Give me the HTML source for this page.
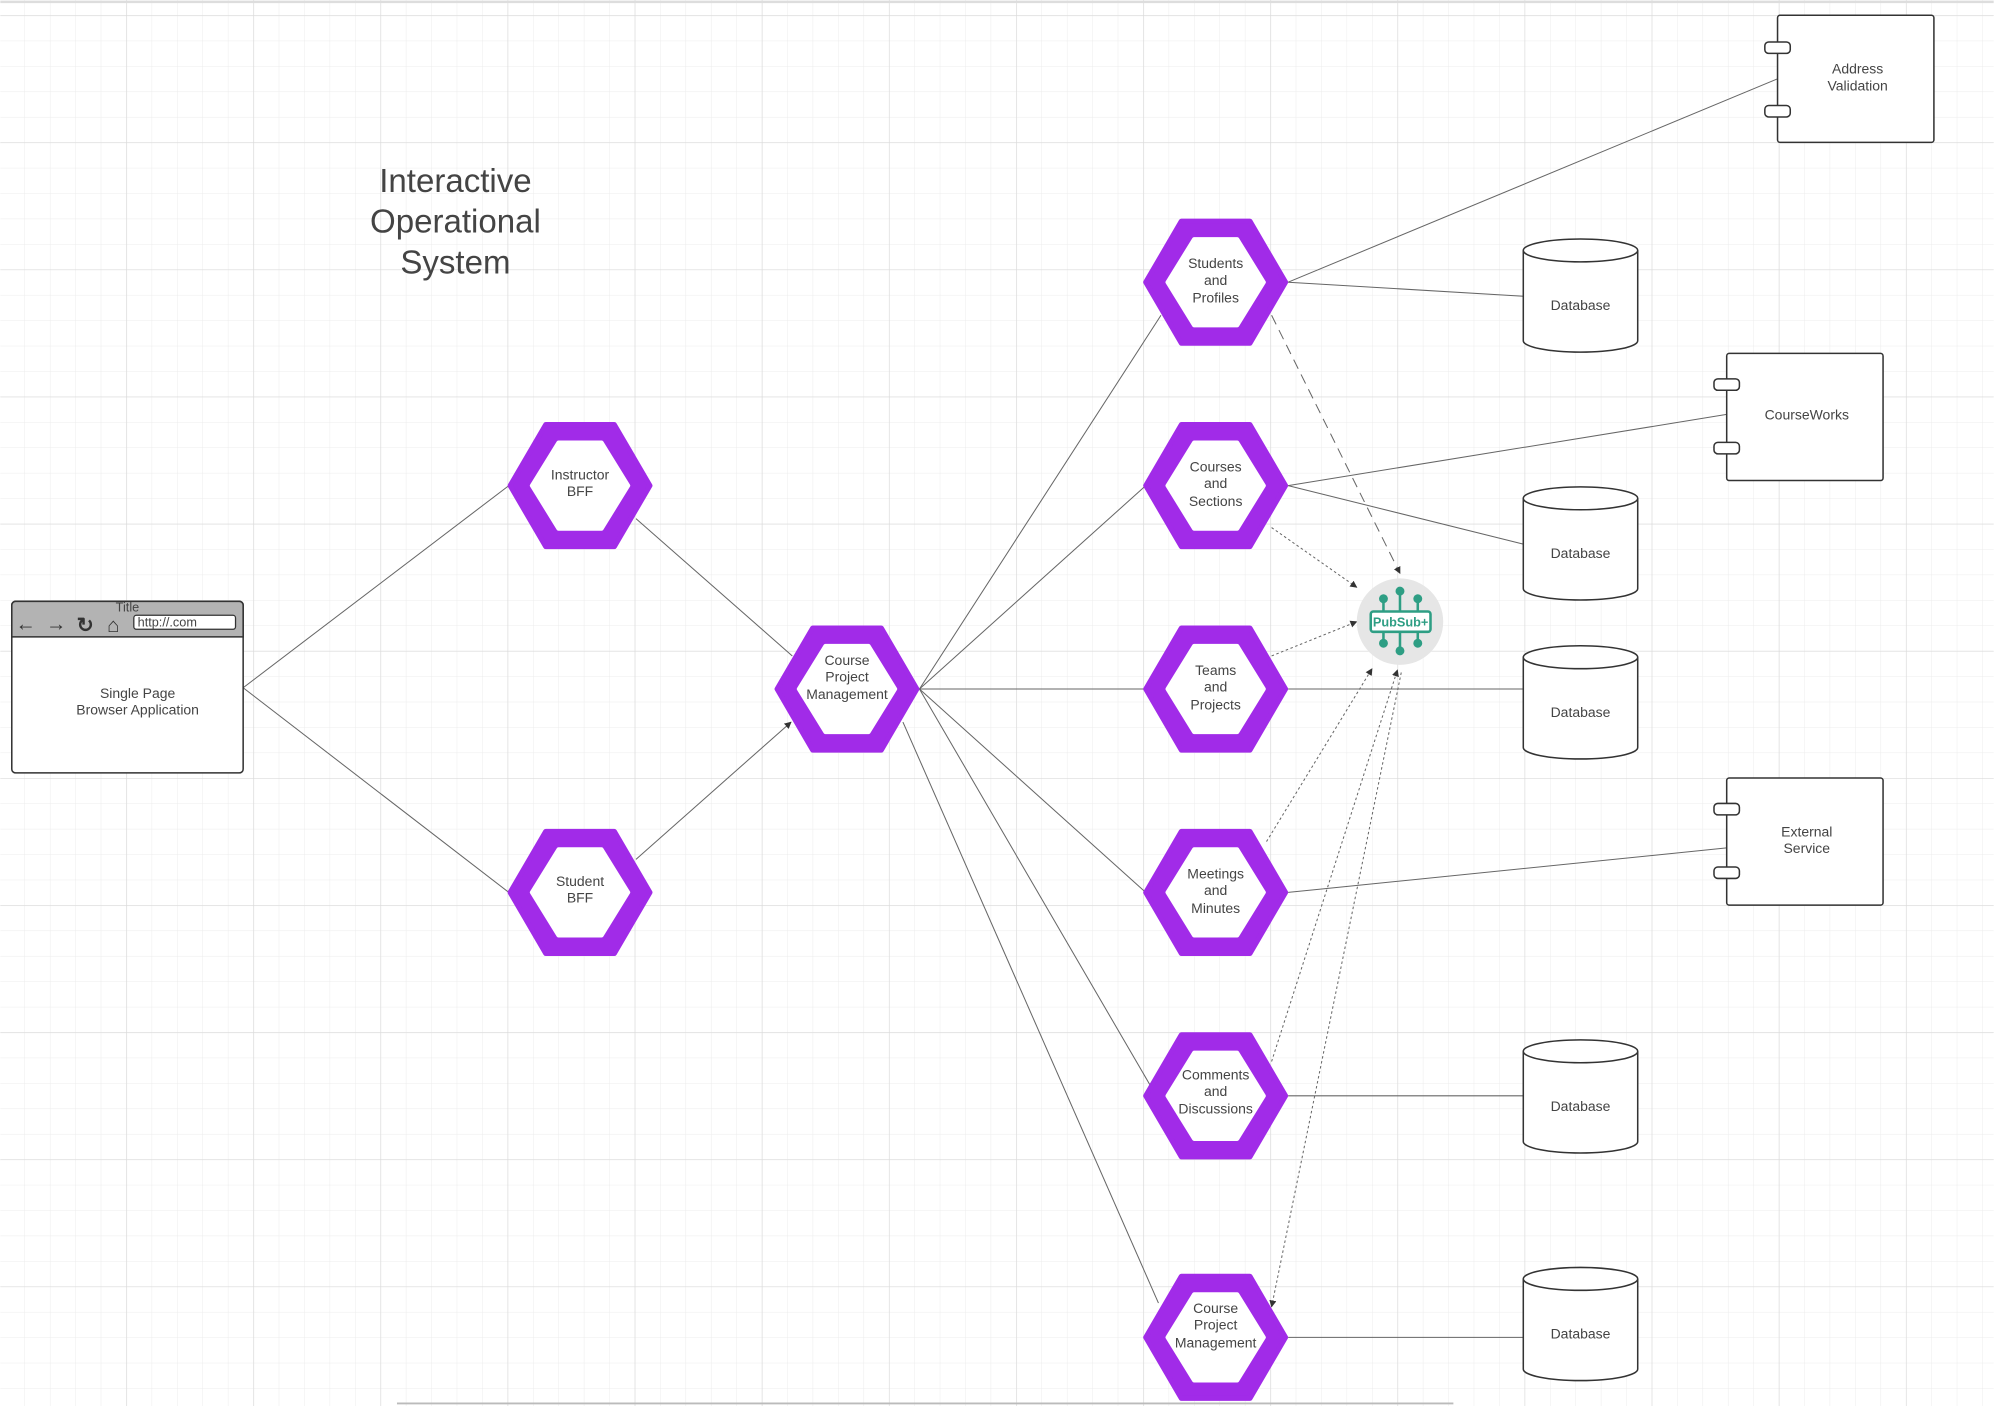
<!DOCTYPE html>
<html><head><meta charset="utf-8"><style>
html,body{margin:0;padding:0;background:#fff;}
svg{display:block;}
text{font-family:"Liberation Sans",sans-serif;fill:#444;}
</style></head><body>
<svg width="1994" height="1406" viewBox="0 0 1568 1106" xmlns="http://www.w3.org/2000/svg">
<defs>
<pattern id="g" width="20" height="20" patternUnits="userSpaceOnUse" x="-1" y="12">
<path d="M0 0H20M0 0V20" stroke="#ececec" stroke-width="0.8" fill="none"/></pattern>
<pattern id="G" width="100" height="100" patternUnits="userSpaceOnUse" x="-1" y="12">
<path d="M0 0H100M0 0V100" stroke="#dadada" stroke-width="1" fill="none"/></pattern>
<marker id="a" viewBox="0 0 10 10" refX="9" refY="5" markerWidth="7" markerHeight="7" orient="auto"><path d="M0 0L10 5L0 10z" fill="#333"/></marker>
<g id="hex"><polygon points="-55,0 -27,-48 27,-48 55,0 27,48 -27,48" fill="#a12be8" stroke="#a12be8" stroke-width="4" stroke-linejoin="round"/><polygon points="-38,0 -17,-34 17,-34 38,0 17,34 -17,34" fill="#fff" stroke="#fff" stroke-width="3" stroke-linejoin="round"/></g>
<g id="cyl"><path d="M0 9V80A45 9 0 0 0 90 80V9" fill="#fff" stroke="#333" stroke-width="1.2"/><ellipse cx="45" cy="9" rx="45" ry="9" fill="#fff" stroke="#333" stroke-width="1.2"/></g>
</defs>
<rect width="1568" height="1106" fill="#fff"/>
<rect width="1568" height="1106" fill="url(#g)"/>
<rect width="1568" height="1106" fill="url(#G)"/>
<line x1="0" y1="1.5" x2="1568" y2="1.5" stroke="#ddd" stroke-width="2"/>
<line x1="312" y1="1104" x2="1143" y2="1104" stroke="#bbb" stroke-width="1.5"/>

<g font-size="26" text-anchor="middle"><text x="358" y="151">Interactive</text><text x="358" y="183">Operational</text><text x="358" y="215">System</text></g>

<!-- connectors -->
<g stroke="#666" stroke-width="0.8" fill="none">
<line x1="191" y1="541" x2="400" y2="382"/>
<line x1="191" y1="541" x2="400" y2="702"/>
<line x1="500" y1="408" x2="623" y2="516"/>
<line x1="500" y1="676" x2="622" y2="568" marker-end="url(#a)"/>
<line x1="723" y1="542" x2="913" y2="248"/>
<line x1="723" y1="542" x2="901" y2="382"/>
<line x1="723" y1="542" x2="901" y2="542"/>
<line x1="723" y1="542" x2="901" y2="702"/>
<line x1="723" y1="542" x2="907" y2="858"/>
<line x1="710" y1="568" x2="911" y2="1025"/>
<line x1="1013" y1="222" x2="1398" y2="62"/>
<line x1="1013" y1="222" x2="1198" y2="233"/>
<line x1="1013" y1="382" x2="1358" y2="326"/>
<line x1="1013" y1="382" x2="1198" y2="428"/>
<line x1="1013" y1="542" x2="1198" y2="542"/>
<line x1="1013" y1="702" x2="1358" y2="667"/>
<line x1="1013" y1="862" x2="1198" y2="862"/>
<line x1="1013" y1="1052" x2="1198" y2="1052"/>
<line x1="1000" y1="248" x2="1101" y2="451" stroke-dasharray="8,5" marker-end="url(#a)"/>
<line x1="1000" y1="415" x2="1067" y2="462" stroke-dasharray="2,2" marker-end="url(#a)"/>
<line x1="1000" y1="516" x2="1067" y2="489" stroke-dasharray="2,2" marker-end="url(#a)"/>
<line x1="996" y1="662" x2="1079" y2="526" stroke-dasharray="2,2" marker-end="url(#a)"/>
<line x1="1000" y1="835" x2="1099" y2="527" stroke-dasharray="2,2" marker-end="url(#a)"/>
<line x1="1102" y1="529" x2="1000" y2="1028" stroke-dasharray="2,2" marker-end="url(#a)"/>
</g>

<!-- browser -->
<rect x="9" y="473" width="182" height="135" rx="3" fill="#fff" stroke="#333" stroke-width="1.2"/>
<path d="M9 501V476a3 3 0 0 1 3-3H188a3 3 0 0 1 3 3V501z" fill="#b3b3b3" stroke="#333" stroke-width="1.2"/>
<text x="100" y="481" font-size="10" text-anchor="middle">Title</text>
<g fill="#333" font-size="16" font-weight="bold"><text x="12" y="496" style="fill:#333">←</text><text x="36" y="496" style="fill:#333">→</text><text x="60" y="497" style="fill:#333">↻</text><text x="84" y="497" style="fill:#333">⌂</text></g>
<rect x="105" y="484" width="80" height="11" rx="2" fill="#fff" stroke="#333"/>
<text x="108" y="493" font-size="10">http://.com</text>
<g font-size="11" text-anchor="middle"><text x="108" y="549">Single Page</text><text x="108" y="562">Browser Application</text></g>

<!-- hexagons -->
<use href="#hex" x="456" y="382"/><use href="#hex" x="456" y="702"/><use href="#hex" x="666" y="542"/>
<use href="#hex" x="956" y="222"/><use href="#hex" x="956" y="382"/><use href="#hex" x="956" y="542"/>
<use href="#hex" x="956" y="702"/><use href="#hex" x="956" y="862"/><use href="#hex" x="956" y="1052"/>
<g font-size="11" text-anchor="middle">
<text x="456" y="377">Instructor</text><text x="456" y="390">BFF</text>
<text x="456" y="697">Student</text><text x="456" y="710">BFF</text>
<text x="666" y="523">Course</text><text x="666" y="536">Project</text><text x="666" y="550">Management</text>
<text x="956" y="211">Students</text><text x="956" y="224">and</text><text x="956" y="238">Profiles</text>
<text x="956" y="371">Courses</text><text x="956" y="384">and</text><text x="956" y="398">Sections</text>
<text x="956" y="531">Teams</text><text x="956" y="544">and</text><text x="956" y="558">Projects</text>
<text x="956" y="691">Meetings</text><text x="956" y="704">and</text><text x="956" y="718">Minutes</text>
<text x="956" y="849">Comments</text><text x="956" y="862">and</text><text x="956" y="876">Discussions</text>
<text x="956" y="1033">Course</text><text x="956" y="1046">Project</text><text x="956" y="1060">Management</text>
</g>

<!-- databases -->
<use href="#cyl" x="1198" y="188"/><use href="#cyl" x="1198" y="383"/><use href="#cyl" x="1198" y="508"/>
<use href="#cyl" x="1198" y="818"/><use href="#cyl" x="1198" y="997"/>
<g font-size="11" text-anchor="middle">
<text x="1243" y="244">Database</text><text x="1243" y="439">Database</text><text x="1243" y="564">Database</text>
<text x="1243" y="874">Database</text><text x="1243" y="1053">Database</text>
</g>

<!-- components -->
<g fill="#fff" stroke="#333" stroke-width="1.2">
<rect x="1398" y="12" width="123" height="100" rx="2"/><rect x="1388" y="33" width="20" height="9" rx="3"/><rect x="1388" y="83" width="20" height="9" rx="3"/>
<rect x="1358" y="278" width="123" height="100" rx="2"/><rect x="1348" y="298" width="20" height="9" rx="3"/><rect x="1348" y="348" width="20" height="9" rx="3"/>
<rect x="1358" y="612" width="123" height="100" rx="2"/><rect x="1348" y="632" width="20" height="9" rx="3"/><rect x="1348" y="682" width="20" height="9" rx="3"/>
</g>
<g font-size="11" text-anchor="middle">
<text x="1461" y="58">Address</text><text x="1461" y="71">Validation</text>
<text x="1421" y="330">CourseWorks</text>
<text x="1421" y="658">External</text><text x="1421" y="671">Service</text>
</g>

<!-- pubsub -->
<circle cx="1101" cy="489" r="34" fill="#e6e6e6"/>
<g stroke="#2e9e84" stroke-width="2" fill="#2e9e84">
<line x1="1088" y1="472" x2="1088" y2="481"/><line x1="1101" y1="466" x2="1101" y2="481"/><line x1="1115" y1="472" x2="1115" y2="481"/>
<line x1="1088" y1="497" x2="1088" y2="505"/><line x1="1101" y1="497" x2="1101" y2="511"/><line x1="1115" y1="497" x2="1115" y2="505"/>
<circle cx="1088" cy="471" r="3.5" stroke="none"/><circle cx="1101" cy="465" r="3.5" stroke="none"/><circle cx="1115" cy="471" r="3.5" stroke="none"/>
<circle cx="1088" cy="506" r="3.5" stroke="none"/><circle cx="1101" cy="512" r="3.5" stroke="none"/><circle cx="1115" cy="506" r="3.5" stroke="none"/>
<rect x="1078" y="481" width="47" height="16" rx="2" fill="#fff"/>
</g>
<text x="1101.5" y="493" font-size="10" font-weight="bold" text-anchor="middle" style="fill:#2e9e84">PubSub+</text>
</svg>
</body></html>
